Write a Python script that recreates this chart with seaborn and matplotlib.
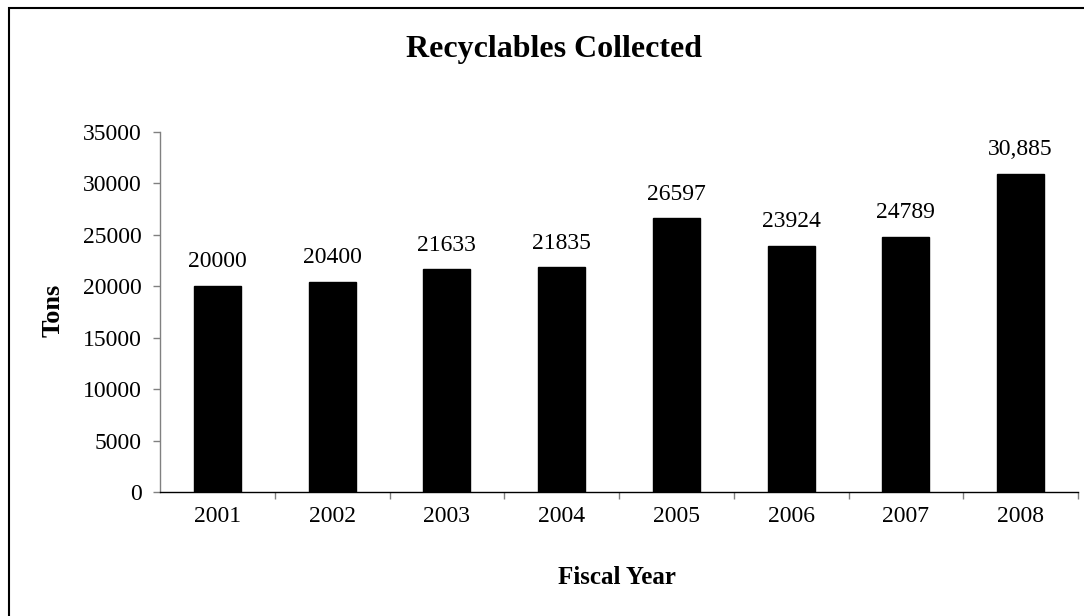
import matplotlib
matplotlib.use("Agg")
import matplotlib.pyplot as plt
import seaborn as sns
import pandas as pd
from matplotlib.patches import Rectangle

years = ["2001", "2002", "2003", "2004", "2005", "2006", "2007", "2008"]
tons = [20000, 20400, 21633, 21835, 26597, 23924, 24789, 30885]
value_labels = ["20000", "20400", "21633", "21835", "26597", "23924", "24789", "30,885"]
y_ticks = [0, 5000, 10000, 15000, 20000, 25000, 30000, 35000]

sns.set_style("white")
plt.rcParams['font.family'] = ['Liberation Serif', 'DejaVu Serif']
plt.rcParams['text.color'] = 'black'
plt.rcParams['xtick.color'] = 'black'
plt.rcParams['ytick.color'] = 'black'
plt.rcParams['xtick.labelcolor'] = 'black'
plt.rcParams['ytick.labelcolor'] = 'black'

W, H = 1084, 616
fig = plt.figure(figsize=(W / 100, H / 100), dpi=100)
ax = fig.add_axes([160 / W, 1 - 492 / H, (1078 - 160) / W, (492 - 132) / H])

df = pd.DataFrame({"year": years, "tons": tons})
sns.barplot(data=df, x="year", y="tons", color="black", width=0.41,
            saturation=1, ax=ax, edgecolor="black")

ax.set_xlim(-0.5, len(years) - 0.5)
ax.set_ylim(0, 35000)
ax.set_yticks(y_ticks)
ax.set_yticklabels([str(t) for t in y_ticks], fontsize=17, color="black")
ax.set_xticks(range(len(years)))
ax.set_xticklabels(years, fontsize=17, color="black")
ax.tick_params(axis='x', length=0, pad=10)
ax.tick_params(axis='y', direction='out', length=5, width=1, color='#808080', pad=8, left=True)
# boundary ticks on x axis
ax.set_xticks([i - 0.5 for i in range(1, len(years) + 1)], minor=True)
ax.tick_params(axis='x', which='minor', direction='out', length=5, width=1, color='#808080', bottom=True)

for side in ["top", "right"]:
    ax.spines[side].set_visible(False)
ax.spines["left"].set_color("#808080")
ax.spines["bottom"].set_color("black")
ax.spines["left"].set_linewidth(1)
ax.spines["bottom"].set_linewidth(1)

for i, (v, lab) in enumerate(zip(tons, value_labels)):
    ax.annotate(lab, (i, v), xytext=(0, 10), textcoords="offset points",
                ha="center", va="bottom", fontsize=17, color="black")

ax.set_xlabel("")
ax.set_ylabel("")
fig.text(554 / W, 1 - 50 / H, "Recyclables Collected", ha="center", va="center",
         fontsize=23, fontweight="bold", color="black")
fig.text(53 / W, 1 - 310 / H, "Tons", ha="center", va="center", rotation=90,
         fontsize=19, fontweight="bold", color="black")
fig.text(617 / W, 1 - 578 / H, "Fiscal Year", ha="center", va="center",
         fontsize=18, fontweight="bold", color="black")

fig.patches.append(Rectangle((8.5 / W, -0.1), 1.2, 1 - 7.5 / H + 0.1, transform=fig.transFigure,
                             fill=False, edgecolor="black", linewidth=1.5))

fig.savefig("out.png", dpi=100)
